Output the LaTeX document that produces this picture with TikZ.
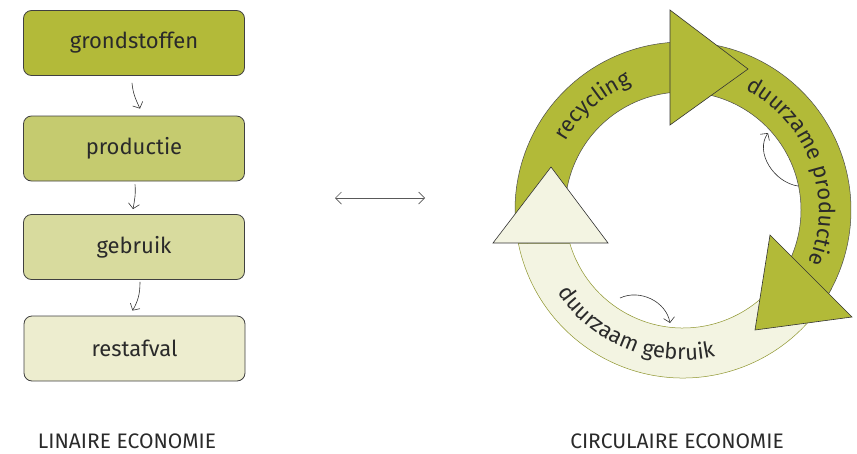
\documentclass[tikz,border=0pt]{standalone}
\usepackage{fontspec}
\setmainfont{Fira Sans}
\usetikzlibrary{arrows.meta,decorations.text,calc}
\definecolor{cA}{HTML}{B3BA39}
\definecolor{cB}{HTML}{C5CB6F}
\definecolor{cC}{HTML}{D8DB9E}
\definecolor{cD}{HTML}{EDEDCF}
\definecolor{ringgreen}{HTML}{B2BA38}
\definecolor{ringcream}{HTML}{F3F4E2}
\definecolor{txt}{HTML}{2A2A2A}
\newcommand\boxfont{\fontsize{22}{24}\selectfont}
\newcommand\ringfont{\fontsize{22}{24}\selectfont}
\newcommand\labfont{\fontsize{21}{23}\selectfont}
\begin{document}
\begin{tikzpicture}[x=1pt,y=1pt,
  box/.style={draw=black!75, line width=0.8pt, rounded corners=8pt,
    minimum width=221pt, minimum height=65pt, inner sep=0pt,
    text=txt, font=\boxfont},
  flow/.style={-{Straight Barb[length=5pt,width=11pt]}, line width=0.6pt, black!80},
  body/.style={line width=0.5pt},
  head/.style={draw=black!80, line width=0.6pt, line join=miter},
  lab/.style={text=txt, font=\labfont, inner sep=0pt, anchor=base},
  ringtext/.style={decorate, decoration={text along path, text align=center,
    text color=txt}}
]
\useasboundingbox (0,0) rectangle (857,-453);

% ---------- linear economy ----------
\node[box, fill=cA] (g) at (134,-43) {grondstoffen};
\node[box, fill=cB] (p) at (134,-148.5) {productie};
\node[box, fill=cC] (u) at (134,-247) {gebruik};
\node[box, fill=cD] (r) at (134.5,-348.5) {restafval};

\draw[flow] ([xshift=-2pt,yshift=-7pt]g.south) to[out=-85,in=115] ([xshift=6pt,yshift=7pt]p.north);
\draw[flow] ([xshift=1pt,yshift=-3pt]p.south) to[out=-85,in=80] ([xshift=-1pt,yshift=5pt]u.north);
\draw[flow] ([xshift=6pt,yshift=-2pt]u.south) to[out=-90,in=60] ([xshift=-2pt,yshift=5pt]r.north);

% ---------- double arrow ----------
\coordinate (da) at (335,-198);
\coordinate (db) at (425,-198);
\draw[{Straight Barb[length=6pt,width=12pt]}-{Straight Barb[length=6pt,width=12pt]}, black!65, line width=0.7pt] (da) -- (db);

% ---------- circular economy ----------
\coordinate (c) at (683,-210);
% cream body (duurzaam gebruik)
\path[body, fill=ringcream, draw=ringgreen!80!black]
  ($(c)+(-28:168)$) arc[start angle=-28, end angle=-168.5, radius=168]
  -- ($(c)+(-163.5:118)$) arc[start angle=-163.5, end angle=-28, radius=118] -- cycle;
% recycling body
\path[body, fill=ringgreen, draw=black!70]
  ($(c)+(188:168)$) arc[start angle=188, end angle=88, radius=168]
  -- ($(c)+(88:118)$) arc[start angle=88, end angle=188, radius=118] -- cycle;
% duurzame productie body
\path[body, fill=ringgreen, draw=black!70]
  ($(c)+(85:168)$) arc[start angle=85, end angle=-30, radius=168]
  -- ($(c)+(-30:118)$) arc[start angle=-30, end angle=85, radius=118] -- cycle;

% arrow heads
\path[head, fill=ringgreen] (670,-10) -- (748,-69) -- (670,-125) -- cycle;
\path[head, fill=ringgreen] (770,-235) -- (852,-317) -- (755,-330) -- cycle;
\path[head, fill=ringcream] (493,-243) -- (551,-167) -- (608,-243) -- cycle;

% ring texts
\path[ringtext, decoration={text={|\ringfont|recycling}}]
  ($(c)+(162:136)$) arc[start angle=162, end angle=100, radius=136];
\path[ringtext, decoration={text={|\ringfont|duurzame productie}}]
  ($(c)+(79:136)$) arc[start angle=79, end angle=-39, radius=136];
\path[ringtext, decoration={text={|\ringfont|duurzaam gebruik}}]
  ($(c)+(198:150)$) arc[start angle=198, end angle=298, radius=150];

% small curved arrows
\coordinate (s1) at (798,-186);
\coordinate (e1) at (768,-133);
\draw[flow] (s1) to[out=172, in=235] (e1);
\coordinate (s2) at (620,-298);
\coordinate (e2) at (670,-323);
\draw[flow] (s2) to[out=25, in=100] (e2);

% labels
\node[lab] (lin) at (127,-448) {LINAIRE ECONOMIE};
\node[lab] (cir) at (677,-448) {CIRCULAIRE ECONOMIE};
\end{tikzpicture}
\end{document}
